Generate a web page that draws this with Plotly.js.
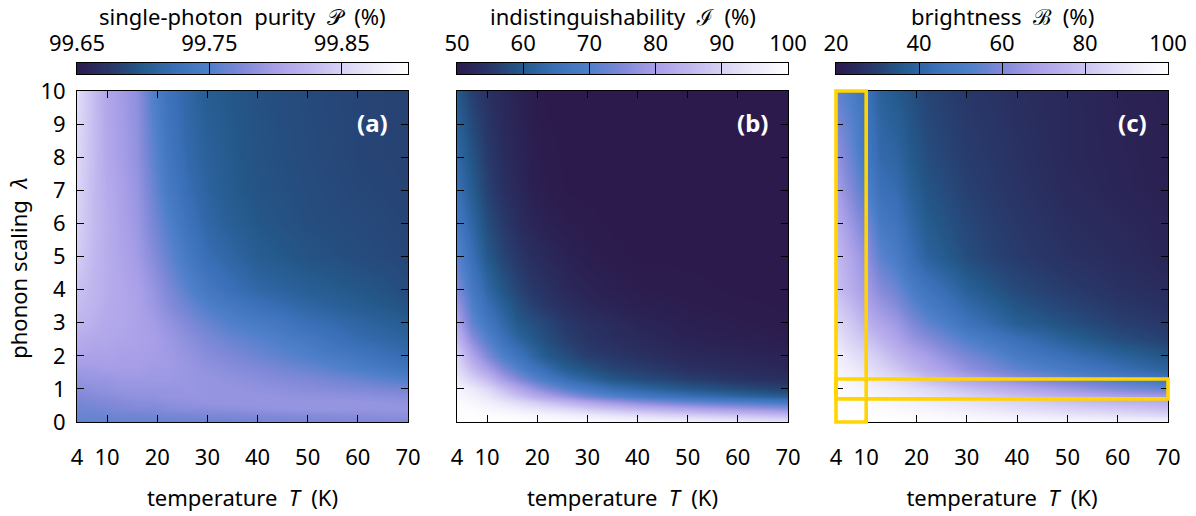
<!DOCTYPE html>
<html><head><meta charset="utf-8">
<script src="https://cdn.plot.ly/plotly-3.0.1.min.js"></script>
<style>html,body{margin:0;padding:0;background:#fff}#chart{width:1196px;height:516px}</style>
</head><body><div id="chart"></div>
<script>
const temperature=[4,7,10,13,16,19,22,26,30,35,40,50,60,70];
const scaling=[0,0.2,0.4,0.6,0.8,1,1.3,1.6,2,2.5,3,3.5,4,5,6,7,8,10];
const tempTicks=[4,10,20,30,40,50,60,70];
const scalingTicks=[0,1,2,3,4,5,6,7,8,9,10];
const purity=[
[99.76,99.76,99.76,99.762,99.762,99.762,99.762,99.764,99.764,99.765,99.768,99.77,99.773,99.775],
[99.763,99.763,99.765,99.766,99.766,99.768,99.77,99.77,99.773,99.773,99.775,99.778,99.78,99.783],
[99.766,99.768,99.77,99.773,99.775,99.775,99.778,99.78,99.78,99.783,99.785,99.788,99.788,99.788],
[99.77,99.773,99.775,99.778,99.78,99.78,99.783,99.785,99.788,99.788,99.788,99.788,99.788,99.785],
[99.775,99.778,99.78,99.783,99.785,99.785,99.788,99.788,99.788,99.788,99.788,99.785,99.783,99.778],
[99.78,99.783,99.785,99.788,99.788,99.788,99.788,99.79,99.788,99.788,99.785,99.78,99.775,99.768],
[99.788,99.79,99.79,99.793,99.793,99.793,99.793,99.79,99.788,99.785,99.78,99.773,99.763,99.75],
[99.795,99.795,99.798,99.798,99.798,99.795,99.795,99.79,99.785,99.78,99.775,99.763,99.748,99.733],
[99.805,99.803,99.803,99.8,99.8,99.798,99.795,99.788,99.78,99.773,99.765,99.75,99.735,99.72],
[99.815,99.81,99.808,99.805,99.803,99.8,99.793,99.783,99.773,99.763,99.755,99.738,99.72,99.71],
[99.825,99.818,99.81,99.808,99.803,99.798,99.788,99.775,99.763,99.75,99.743,99.725,99.713,99.703],
[99.83,99.823,99.813,99.808,99.803,99.793,99.78,99.765,99.75,99.738,99.728,99.713,99.703,99.695],
[99.835,99.825,99.815,99.808,99.802,99.79,99.775,99.755,99.738,99.725,99.715,99.705,99.698,99.69],
[99.845,99.828,99.815,99.805,99.796,99.78,99.762,99.74,99.723,99.713,99.703,99.695,99.69,99.686],
[99.85,99.83,99.815,99.803,99.792,99.772,99.752,99.73,99.715,99.705,99.698,99.691,99.688,99.685],
[99.853,99.83,99.813,99.801,99.789,99.766,99.742,99.723,99.71,99.701,99.695,99.69,99.686,99.684],
[99.855,99.833,99.81,99.798,99.786,99.76,99.737,99.718,99.708,99.7,99.694,99.689,99.685,99.683],
[99.86,99.833,99.808,99.796,99.783,99.752,99.73,99.715,99.703,99.698,99.693,99.688,99.685,99.683]];
const indist=[
[100,100,100,100,99.9,99.8,99.7,99.5,99.2,98.8,98.3,97,95.5,93.5],
[99.9,99.7,99.3,98.8,98.3,97.7,97,96,95,93.5,92,89.5,87.5,85.5],
[99.6,99,98,97,95.7,94.3,92.8,91,89,87,85,82,79.5,77],
[99,97.8,96,94,91.7,89.5,87,84.5,81.5,78.5,76,72.5,70,68],
[98,96.3,94,90.5,87,83.5,80.5,77,73.5,70.5,68,65,62.5,60.5],
[97,94.8,91.5,87,82.5,78.5,75,71,68,65,63,60,58,56.5],
[94.5,90,86,80,75.5,71.5,68,64.5,62,59.5,58,56,54.5,53.5],
[92,86,80.5,75,70.5,67,64,60.5,59,57,56,54,53,52.3],
[90,81.5,75,70,66.5,63,60,58,56,55,54,52.5,52,51.5],
[85,76,70.5,66,62.5,60,58,56,54.5,53.5,52.8,51.5,51,50.5],
[81,72,67.5,63.5,60,58.5,57,55,54,53,52,51,50.5,50.2],
[78,70,65,61.5,58.5,56.5,55,53.5,52.5,51.7,51,50.5,50.2,50],
[75,68,63,59.5,57,55,54,52.5,51.7,51,50.5,50.2,50,50],
[71,65,60,57,55,53.5,52.5,51.5,50.7,50.2,50,50,50,50],
[67.5,62.5,58,55.5,53.5,52,51.2,50.5,50.2,50,50,50,50,50],
[65,60.5,56.5,54,52.5,51,50.5,50,50,50,50,50,50,50],
[63,59,55.5,53.3,52,50.8,50.2,50,50,50,50,50,50,50],
[60,56,54,52.5,51.5,50.5,50,50,50,50,50,50,50,50]];
const brightness=[
[100,100,100,100,100,99.8,99.6,99.4,99,98.6,98.2,97.5,96.8,96],
[99.8,99.7,99.5,99.2,98.8,98.3,97.6,97,96,94.5,93,90.5,88.5,86],
[99.5,99.3,99,98.3,97.5,96.5,95.5,94,92.5,90.5,88.5,85,82,79],
[99.3,98.8,98.2,97,96,94.5,93,91,89.5,87,85,80,76,73],
[98.8,98,97,95.5,93.5,91.5,89.5,87,84.5,81.5,78.5,73.5,69.5,66],
[98,97,95,93,91,88.5,86,82.5,79,75.5,72,66,60.5,56],
[97,95,92,89,86,83,78,74,70,66,62,56,51,46],
[95.5,92.5,89,85,81,76.5,72,68,63,59,55,49,44,39],
[93.5,89,85.5,81,76,71.5,68,63,58.5,54.5,49.5,44,39,35],
[90,84,80,75,70,65,61,56.5,52,48,44,38,33,30],
[85.5,81,74.5,69.5,66,60,55,50.5,45.5,41.5,37.5,33.5,30,28],
[82,77,70,65,61,55,50,46,41.5,38,34.5,31,28,26],
[79,73,67,61,57,51,46.5,42.5,38,35,32,29,26.5,25],
[77.5,70,63,54,50,44,39,36,33,30.5,29,26.5,25,23],
[73,65,58,48.5,46,41,36.5,34,31.5,29.5,28,25.5,24,22.5],
[68,60,52,44.5,42.5,38,34.5,32.5,30,28.5,27,24.5,23,21.8],
[64,56,48,41.5,40,36,33,31,29,28,26.5,24,22.8,21.7],
[55,51,45,38.5,36,33.5,31,29.5,28,27,25.6,24,22.4,21.6]];
const purityBar=[99.65,99.90], purityTicks=[99.65,99.75,99.85], purityLabels=['99.65','99.75','99.85'];
const indistBar=[50,100], indistTicks=[50,60,70,80,90,100];
const brightBar=[20,100], brightTicks=[20,40,60,80,100];
const titles=['single-photon&nbsp; purity&nbsp; 𝒫&nbsp; (%)','indistinguishability&nbsp; ℐ&nbsp; (%)','brightness&nbsp; ℬ&nbsp; (%)'];
const panelTags=['(a)','(b)','(c)'];
const highlightT=[[4,10],[4,70]];
const highlightL=[[0,10],[0.7,1.3]];

const W=1196,H=516,FONT='"Noto Sans", sans-serif',FS=22;
const colors=[[0,'#2c1a4c'],[0.1,'#283768'],[0.2,'#245a8c'],[0.3,'#3a70b8'],[0.4,'#4f7fca'],[0.5,'#8089d8'],[0.6,'#a99fe8'],[0.7,'#c0b6ee'],[0.8,'#d8d2f5'],[0.9,'#eeebfa'],[1,'#ffffff']];
const frames=[[77,408],[457,788],[836,1168]];
const zs=[purity,indist,brightness],bars=[purityBar,indistBar,brightBar];
const barTicks=[purityTicks,indistTicks,brightTicks],barLabels=[purityLabels,indistTicks.map(String),brightTicks.map(String)];
const data=[],layout={width:W,height:H,margin:{l:0,r:0,t:0,b:0},paper_bgcolor:'#fff',plot_bgcolor:'#fff',showlegend:false,font:{family:FONT,size:FS,color:'#000'},annotations:[],shapes:[]};
const base={showline:true,linecolor:'#000',linewidth:1,mirror:'allticks',ticks:'inside',ticklen:7,tickwidth:1,tickcolor:'#000',showgrid:false,zeroline:false,tickfont:{family:FONT,size:FS}};
frames.forEach((f,i)=>{
  const n=i+1,bn=i+4;
  data.push({type:'heatmap',x:temperature,y:scaling,z:zs[i],xaxis:'x'+n,yaxis:'y'+n,zsmooth:'best',colorscale:colors,zmin:bars[i][0],zmax:bars[i][1],showscale:false});
  data.push({type:'heatmap',x:bars[i],y:[0,1],z:[bars[i],bars[i]],xaxis:'x'+bn,yaxis:'y'+bn,zsmooth:'best',colorscale:colors,zmin:bars[i][0],zmax:bars[i][1],showscale:false});
  layout['xaxis'+n]=Object.assign({},base,{domain:[f[0]/W,f[1]/W],anchor:'y'+n,range:[4,70],tickmode:'array',tickvals:tempTicks,ticktext:tempTicks.map(String),ticklabelstandoff:16,
    title:{text:'temperature&nbsp; <i>T</i>&nbsp; (K)',font:{family:FONT,size:FS},standoff:20}});
  layout['yaxis'+n]=Object.assign({},base,{domain:[1-422/H,1-91/H],anchor:'x'+n,range:[0,10],tickmode:'array',tickvals:scalingTicks,ticktext:scalingTicks.map(String),showticklabels:i===0,ticklabelstandoff:6});
  layout['xaxis'+bn]=Object.assign({},base,{domain:[f[0]/W,f[1]/W],anchor:'y'+bn,side:'top',range:bars[i],tickmode:'array',tickvals:barTicks[i],ticktext:barLabels[i],ticklen:11,ticklabelstandoff:2,mirror:true});
  layout['yaxis'+bn]=Object.assign({},base,{domain:[1-74/H,1-63/H],anchor:'x'+bn,range:[0,1],ticks:'',showticklabels:false,mirror:true});
  layout.annotations.push({text:titles[i],xref:'x'+bn+' domain',yref:'paper',x:0.5,y:1-15/H,yanchor:'middle',height:29,showarrow:false,font:{family:FONT,size:FS}});
  layout.annotations.push({text:'<b>'+panelTags[i]+'</b>',xref:'x'+n,yref:'y'+n,x:63,y:9.06,showarrow:false,font:{family:FONT,size:24,color:'#fff'}});
});
layout.yaxis1.title={text:'phonon scaling&nbsp; <i>λ</i>&nbsp;&nbsp;&nbsp;&nbsp;',font:{family:FONT,size:FS},standoff:6};
// highlight boxes on panel (c): domain references keep them unclipped over the frame
const tr=layout.xaxis3.range,lr=layout.yaxis3.range;
highlightT.forEach((t,k)=>layout.shapes.push({type:'rect',xref:'x3 domain',yref:'y3 domain',layer:'above',
  x0:(t[0]-tr[0])/(tr[1]-tr[0]),x1:(t[1]-tr[0])/(tr[1]-tr[0]),y0:(highlightL[k][0]-lr[0])/(lr[1]-lr[0]),y1:(highlightL[k][1]-lr[0])/(lr[1]-lr[0]),
  line:{color:'#ffd400',width:3.6},fillcolor:'rgba(0,0,0,0)'}));
Plotly.newPlot('chart',data,layout,{staticPlot:true,displayModeBar:false});
</script></body></html>
